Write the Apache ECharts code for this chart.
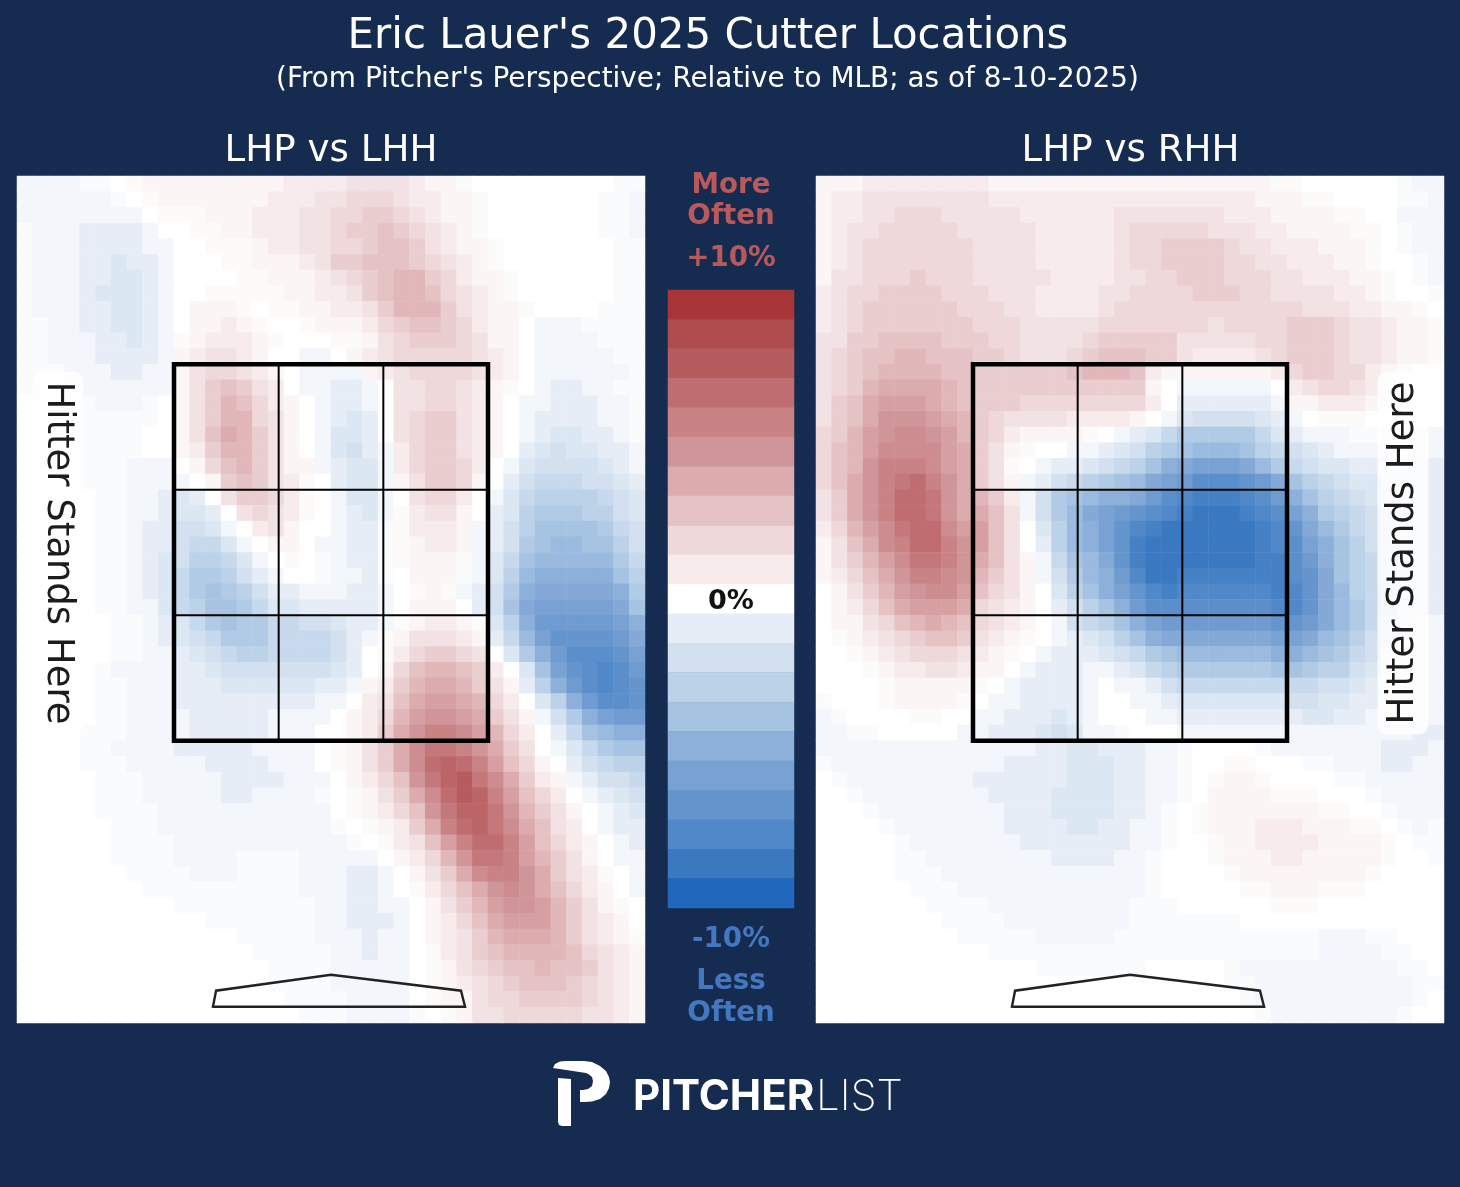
<!DOCTYPE html>
<html><head><meta charset="utf-8">
<style>html,body{margin:0;padding:0;background:#162B50}#c{width:1460px;height:1187px}</style>
<script src="https://cdn.jsdelivr.net/npm/echarts@6/dist/echarts.min.js"></script>
</head><body><div id="c"></div>
<script>
const vsLHH = [
[-1,-1,-1,-1,-.5,-.5,0,.5,1,1,1,1,1,1,1,1,1,2,2,2,2,3,3,3,3,2,1,1,.5,0,0,0,0,0,0,0,0,0,-.5,-.5],
[-1,-1,-1,-1,-1,-1,-.5,0,.5,1,1,1,1,1,1,1,2,2,2,3,3,4,4,4,3,2,2,1,1,.5,0,0,0,0,0,0,0,-.5,-.5,-1],
[-1,-1,-1,-1,-1,-1,-1,-1,0,.5,.5,.5,1,1,1,2,2,2,3,3,4,4,5,5,4,3,2,1,1,.5,0,0,0,0,0,0,0,-.5,-.5,-1],
[-.5,-1,-1,-1,-2,-2,-2,-2,-1,0,0,.5,.5,1,1,2,2,2,3,3,4,5,5,6,5,4,3,2,1,.5,0,0,0,0,0,0,0,-.5,-.5,-1],
[-.5,-1,-1,-1,-2,-2,-2,-2,-1,-1,0,0,.5,.5,.5,1,2,2,3,3,4,4,5,6,6,5,3,2,1,1,.5,0,0,0,0,0,0,0,-.5,-.5],
[-.5,-1,-1,-1,-2,-2,-3,-2,-2,-1,0,0,0,.5,.5,1,1,1,2,3,5,5,6,6,6,5,4,3,2,1,.5,0,0,0,0,0,0,0,-.5,-.5],
[-.5,-1,-1,-1,-2,-2,-3,-3,-2,-1,0,0,0,0,.5,.5,1,1,1,2,3,4,5,6,7,7,5,4,2,1,1,.5,0,0,0,0,0,0,-.5,-.5],
[-.5,-1,-1,-1,-2,-3,-3,-3,-2,-1,0,0,.5,.5,.5,.5,.5,1,1,2,2,3,5,6,7,7,6,4,3,2,1,.5,0,0,0,0,0,0,-.5,-.5],
[-.5,-1,-1,-1,-2,-2,-3,-3,-2,-1,0,1,1,1,.5,0,.5,.5,1,1,2,2,3,5,7,7,7,5,3,2,1,1,.5,0,0,0,0,-.5,-.5,-.5],
[-.5,-.5,-1,-1,-2,-2,-3,-3,-2,-1,0,1,1,2,1,.5,0,0,.5,1,1,1,2,4,5,6,6,5,4,2,1,1,0,-1,-1,-1,-.5,-.5,-.5,-.5],
[-.5,-.5,-1,-1,-1,-2,-2,-3,-2,-1,.5,1,2,2,2,1,.5,0,0,0,.5,.5,1,3,4,5,5,5,4,3,1,1,0,-1,-1,-1,-1,-.5,-.5,-.5],
[-.5,-.5,-1,-1,-1,-2,-2,-2,-2,-1,1,2,3,3,2,1,0,0,-1,-1,0,1,2,3,4,4,4,4,4,3,2,1,0,-1,-1,-1,-1,-1,-.5,-.5],
[-.5,-.5,-.5,-1,-1,-1,-2,-2,-1,-1,1,3,4,4,3,2,1,0,-1,-1,-1,-1,1,2,3,4,4,4,4,3,2,1,0,-1,-1,-1,-1,-1,-1,-.5],
[-.5,-.5,-.5,-.5,-1,-1,-1,-1,-1,-1,1,3,5,6,5,3,2,0,-1,-1,-2,-2,-1,0,3,3,4,4,3,2,1,.5,0,-1,-2,-2,-1,-1,-.5,-.5],
[0,-.5,-.5,-.5,-.5,-1,-1,-1,-.5,0,1,3,5,7,6,4,2,1,0,-1,-2,-2,-1,0,3,3,4,4,3,2,1,0,-1,-1,-2,-2,-2,-1,-1,-.5],
[0,-.5,-.5,-.5,-.5,-.5,-.5,-.5,-.5,0,1,3,5,7,7,4,3,1,0,-1,-2,-3,-2,0,3,4,5,5,3,2,1,0,-1,-2,-2,-2,-2,-1,-1,-.5],
[0,-.5,-.5,-.5,-.5,-.5,-.5,-.5,0,0,1,3,6,8,7,5,3,1,0,-1,-3,-3,-2,0,3,4,5,5,3,2,1,0,-1,-2,-3,-3,-2,-2,-1,-.5],
[0,0,-.5,-.5,-.5,-.5,-.5,-.5,0,0,1,2,5,7,7,5,3,1,0,-1,-3,-4,-2,-1,2,4,5,5,3,2,1,0,-2,-3,-4,-3,-3,-2,-2,-1],
[0,0,0,-.5,-.5,-.5,-.5,-1,-1,-1,0,1,4,6,7,5,3,1,1,-1,-2,-3,-3,-1,2,4,5,5,4,2,0,-1,-3,-4,-4,-4,-4,-3,-2,-1],
[0,0,0,0,-.5,-.5,-.5,-1,-1,-1,-1,0,1,5,6,5,3,2,.5,0,-2,-3,-3,-1,1,3,5,5,4,1,0,-2,-4,-5,-5,-5,-4,-4,-3,-2],
[0,0,0,0,0,-.5,-.5,-1,-1,-2,-3,-2,0,3,5,5,4,2,.5,0,-1,-3,-3,-1,0,3,4,4,2,0,-1,-3,-5,-6,-6,-6,-6,-5,-4,-3],
[0,0,0,0,0,-.5,-.5,-1,-1,-2,-3,-3,-2,0,3,4,3,2,.5,0,-1,-2,-3,-1,.5,2,3,3,1,0,-2,-3,-6,-7,-7,-7,-6,-6,-4,-3],
[0,0,0,0,0,-.5,-.5,-1,-2,-2,-4,-4,-3,-1,0,2,3,1,0,0,-1,-2,-2,-.5,.5,2,2,2,1,-1,-2,-4,-6,-8,-8,-8,-8,-7,-5,-4],
[0,0,0,0,0,-.5,-.5,-1,-2,-2,-4,-5,-5,-3,-1,0,1,1,0,-1,-1,-2,-2,-.5,.5,1,2,2,1,-1,-2,-4,-7,-8,-9,-9,-8,-8,-6,-4],
[0,0,0,0,0,-.5,-.5,-1,-2,-3,-4,-6,-6,-5,-3,-1,0,.5,0,-.5,-1,-2,-2,-.5,.5,1,1,1,.5,-1,-3,-5,-8,-9,-9,-9,-9,-9,-7,-5],
[0,0,0,0,0,-.5,-.5,-1,-2,-3,-5,-7,-7,-6,-4,-2,-1,0,0,-.5,-1,-1,-2,-.5,0,1,1,1,-.5,-1,-3,-6,-9,-10,-10,-10,-10,-10,-8,-6],
[0,0,0,0,0,-.5,-.5,-1,-2,-3,-5,-7,-8,-7,-6,-4,-2,-2,-1,-1,-1,-2,-2,-1,0,.5,1,.5,-1,-2,-4,-7,-10,-11,-11,-11,-11,-11,-10,-7],
[0,0,0,0,0,-.5,-.5,-1,-1,-3,-5,-6,-8,-8,-7,-5,-3,-3,-2,-2,-2,-2,-2,-1,0,1,1,1,0,-2,-4,-8,-11,-12,-12,-12,-12,-12,-11,-8],
[0,0,0,0,0,0,-.5,-.5,-1,-2,-3,-5,-7,-8,-7,-7,-5,-5,-4,-4,-3,-2,-2,-1,.5,1,2,2,1,.5,-3,-6,-10,-13,-13,-13,-13,-13,-12,-10],
[0,0,0,0,0,0,-.5,-.5,-1,-2,-3,-4,-5,-7,-7,-7,-5,-5,-5,-5,-4,-2,-1,.5,1,3,3,3,2,1,-2,-5,-9,-12,-14,-14,-14,-14,-13,-11],
[0,0,0,0,0,0,-.5,-.5,-1,-1,-2,-3,-4,-5,-6,-6,-5,-5,-5,-5,-4,-2,0,.5,2,4,5,5,4,3,0,-3,-7,-10,-13,-15,-15,-15,-14,-12],
[0,0,0,0,0,-.5,-1,-1,-1,-1,-2,-2,-3,-4,-4,-4,-4,-4,-4,-4,-3,-2,0,1,4,6,7,7,6,5,2,0,-3,-8,-12,-14,-15,-16,-15,-13],
[0,0,0,0,0,-.5,-.5,-1,-1,-1,-2,-2,-2,-3,-3,-3,-3,-3,-3,-2,-2,-1,1,2,5,7,8,8,7,5,3,1,-2,-6,-10,-13,-15,-16,-15,-14],
[0,0,0,0,0,-.5,-.5,-1,-1,-1,-2,-2,-2,-2,-2,-2,-2,-2,-2,-1,-1,0,2,3,6,8,9,9,8,7,4,2,0,-3,-6,-10,-13,-15,-15,-14],
[0,0,0,0,0,-.5,-.5,-1,-1,-1,-1,-2,-2,-2,-2,-2,-1,-1,-1,-1,0,1,2,4,7,9,10,10,9,8,5,3,1,-1,-4,-7,-10,-12,-13,-13],
[0,0,0,0,-.5,-.5,-.5,-1,-1,-1,-1,-2,-2,-2,-2,-2,-1,-1,-1,0,0,1,2,5,8,10,12,12,11,9,7,4,2,0,-2,-5,-8,-9,-10,-10],
[0,0,0,0,-.5,-.5,-1,-1,-1,-1,-2,-2,-2,-2,-2,-1,-1,-1,-1,0,.5,1,3,5,8,11,13,13,12,10,8,5,3,0,-1,-3,-5,-7,-8,-8],
[0,0,0,0,-.5,-.5,-.5,-1,-1,-1,-1,-1,-2,-2,-2,-2,-1,-1,-1,0,.5,1,3,5,8,11,14,15,14,12,9,6,4,1,0,-2,-4,-5,-6,-6],
[0,0,0,0,0,-.5,-.5,-.5,-1,-1,-1,-1,-1,-2,-2,-2,-2,-1,-1,-1,0,1,2,4,6,10,13,15,16,13,11,8,5,2,1,-1,-2,-4,-4,-5],
[0,0,0,0,0,-.5,-.5,-.5,-1,-1,-1,-1,-1,-2,-2,-1,-1,-1,-1,-.5,0,.5,1,3,5,8,11,14,16,15,12,9,6,4,2,0,-1,-2,-3,-4],
[0,0,0,0,0,-.5,-.5,-.5,-.5,-1,-1,-1,-1,-1,-1,-1,-1,-1,-1,-1,0,.5,1,2,4,6,10,13,15,15,13,10,7,5,3,1,0,-1,-2,-3],
[0,0,0,0,0,0,-.5,-.5,-.5,-1,-1,-1,-1,-1,-1,-1,-1,-1,-1,-1,-.5,0,.5,1,2,5,8,12,14,15,13,11,8,6,3,2,0,-1,-2,-2],
[0,0,0,0,0,0,-.5,-.5,-.5,-.5,-1,-1,-1,-1,-1,-1,-1,-1,-1,-1,-1,-.5,0,.5,2,3,6,9,12,14,14,12,9,6,4,2,1,0,-1,-2],
[0,0,0,0,0,0,-.5,-.5,-.5,-.5,-1,-1,-1,-1,-.5,-.5,-.5,-.5,-1,-1,-1,-1,-1,0,1,2,4,7,10,13,13,12,9,7,5,3,1,0,-1,-1],
[0,0,0,0,0,0,0,-.5,-.5,-.5,-.5,-1,-1,-1,-.5,-.5,-.5,-.5,-1,-1,-1,-2,-2,-1,0,1,3,5,8,11,12,12,10,8,5,3,2,.5,0,-1],
[0,0,0,0,0,0,0,0,-.5,-.5,-.5,-.5,-.5,-.5,-.5,-.5,-.5,-.5,-1,-1,-1,-2,-2,-1,0,.5,2,4,6,8,10,11,10,8,6,4,2,1,0,-1],
[0,0,0,0,0,0,0,0,0,0,-.5,-.5,-.5,-.5,-.5,-.5,-.5,-.5,-.5,-1,-1,-2,-2,-1,-1,0,1,3,5,7,9,10,10,9,7,5,3,1,.5,0],
[0,0,0,0,0,0,0,0,0,0,0,0,-.5,-.5,-.5,-.5,-.5,-.5,-.5,-1,-1,-2,-2,-2,-1,0,1,2,4,6,8,9,9,9,7,5,3,2,1,0],
[0,0,0,0,0,0,0,0,0,0,0,0,0,0,-.5,-.5,-.5,-.5,-.5,-1,-1,-1,-2,-1,-1,0,1,2,3,5,7,8,8,8,7,5,3,2,1,.5],
[0,0,0,0,0,0,0,0,0,0,0,0,0,0,0,-.5,-.5,-.5,-.5,-.5,-1,-1,-2,-1,-1,0,.5,2,3,5,6,7,7,7,7,6,4,3,2,1],
[0,0,0,0,0,0,0,0,0,0,0,0,0,0,0,0,-.5,-.5,-.5,-.5,-1,-1,-1,-1,-1,0,.5,1,3,4,5,6,6,7,6,6,5,3,2,1],
[0,0,0,0,0,0,0,0,0,0,0,0,0,0,0,0,-.5,-.5,-.5,-.5,-1,-1,-1,-1,-1,0,.5,1,2,3,4,5,6,6,6,5,4,3,2,1],
[0,0,0,0,0,0,0,0,0,0,0,0,0,0,0,0,0,-.5,-.5,-.5,-.5,-1,-1,-1,-1,0,.5,1,1,3,4,4,5,5,5,5,4,3,2,1],
[0,0,0,0,0,0,0,0,0,0,0,0,0,0,0,0,0,0,-.5,-.5,-.5,-1,-1,-1,-1,-.5,0,.5,1,3,3,4,4,4,4,4,3,3,2,1]
];
const vsRHH = [
[1,1,1,2,2,2,2,2,2,2,2,1,1,1,1,1,1,1,1,1,1,1,1,1,1,1,1,1,1,.5,.5,0,0,0,0,0,0,-.5,-1,-1],
[1,2,2,3,3,3,3,3,3,3,3,2,2,2,2,2,2,2,2,2,2,2,2,2,2,2,2,2,1,1,1,.5,.5,0,0,0,0,-.5,-.5,-1],
[1,2,2,3,3,4,4,4,3,3,3,3,3,2,2,2,2,2,2,3,3,3,3,3,3,3,2,2,2,1,1,1,1,.5,.5,0,0,-1,-1,-1],
[1,2,3,3,4,4,4,4,4,3,3,3,3,3,2,2,2,2,2,3,4,4,4,4,4,3,3,3,2,2,1,1,1,1,.5,.5,0,-.5,-1,-1],
[1,2,3,4,4,4,4,4,4,4,3,3,3,3,2,2,2,2,2,3,4,4,5,5,5,5,4,3,3,2,2,2,1,1,1,.5,0,-.5,-1,-1],
[1,2,3,4,4,4,4,4,4,4,3,3,3,3,2,2,2,2,2,3,4,4,5,5,5,5,4,4,3,3,2,2,2,1,1,.5,0,0,-.5,-1],
[1,3,3,4,4,4,5,4,4,4,3,3,3,3,3,2,2,2,2,3,3,4,4,5,5,5,4,4,4,3,3,2,2,2,1,1,.5,0,-.5,-1],
[2,3,4,4,5,5,5,5,4,4,4,3,3,3,2,2,2,2,3,3,4,4,4,4,5,5,5,4,4,3,3,3,3,2,2,1,.5,0,0,-.5],
[2,3,4,5,5,5,5,5,5,4,4,4,3,3,2,2,2,2,3,4,4,4,4,4,4,4,4,4,4,4,4,3,3,3,2,2,1,1,.5,0],
[2,3,4,5,5,5,5,5,5,5,4,4,4,3,3,3,3,3,4,4,4,4,4,4,4,3,4,4,4,4,5,5,5,4,3,3,2,1,1,.5],
[3,3,5,5,6,6,6,6,5,5,5,4,4,3,3,3,3,4,5,5,5,5,5,3,3,3,3,3,4,4,5,5,5,4,3,3,2,1,1,.5],
[3,4,5,6,6,7,7,6,6,6,5,5,4,3,3,3,4,5,6,6,6,5,5,3,2,2,2,2,3,4,5,5,5,4,3,3,2,1,1,.5],
[3,4,5,6,7,7,7,7,6,6,5,5,5,5,5,5,6,7,7,7,6,2,1,1,1,1,1,1,1,2,4,5,5,4,4,2,1,.5,0,0],
[3,4,5,7,8,8,8,8,7,6,5,5,5,5,5,5,5,5,5,5,5,1,0,-1,-1,-1,-1,-1,-1,0,2,3,4,4,3,2,1,.5,0,0],
[3,5,6,8,9,9,9,8,7,6,5,5,5,4,4,4,4,4,4,4,4,2,0,-2,-2,-2,-2,-2,-2,-1,1,1,2,2,2,1,1,.5,0,0],
[3,5,6,8,10,10,10,9,8,7,5,4,3,3,3,3,2,2,2,2,1,0,-1,-3,-4,-4,-4,-4,-3,-2,-1,0,.5,.5,.5,0,0,0,0,0],
[4,5,7,9,10,11,11,10,9,7,5,4,2,1,1,1,1,.5,0,-1,-2,-3,-5,-7,-7,-7,-7,-7,-5,-3,-2,-1,-1,-1,-.5,-.5,-1,-1,-1,-1],
[4,6,7,9,11,11,11,11,9,8,5,3,1,.5,0,0,-1,-1,-2,-3,-4,-6,-7,-8,-9,-9,-9,-8,-6,-5,-4,-3,-2,-1,-1,-1,-1,-1,-1,-1],
[4,6,7,10,12,12,12,11,9,8,5,3,.5,0,-1,-2,-2,-3,-4,-5,-6,-8,-10,-11,-12,-12,-12,-11,-9,-7,-5,-4,-3,-3,-2,-2,-2,-2,-2,-2],
[4,6,8,10,12,13,14,12,10,8,5,3,1,-1,-2,-4,-5,-6,-7,-8,-9,-11,-12,-13,-15,-15,-15,-14,-13,-11,-8,-6,-5,-4,-3,-3,-2,-2,-2,-2],
[3,5,8,10,12,14,14,13,10,8,7,5,2,-1,-4,-7,-8,-9,-10,-10,-11,-13,-15,-16,-17,-17,-17,-16,-15,-13,-10,-8,-6,-5,-4,-3,-3,-2,-2,-2],
[3,5,8,10,12,14,14,13,10,8,8,6,3,-1,-4,-7,-9,-11,-12,-13,-14,-15,-16,-17,-18,-18,-18,-17,-16,-15,-12,-10,-7,-6,-5,-4,-3,-2,-2,-2],
[2,4,7,9,11,13,14,14,11,9,9,6,3,0,-3,-6,-9,-10,-12,-14,-16,-17,-18,-18,-18,-18,-18,-18,-17,-16,-14,-11,-9,-7,-5,-4,-3,-2,-2,-2],
[1,3,6,8,11,12,14,14,12,10,9,6,3,0,-2,-6,-9,-10,-12,-14,-17,-18,-18,-18,-18,-18,-18,-18,-17,-16,-15,-12,-10,-8,-6,-4,-3,-2,-2,-2],
[1,3,5,7,9,11,13,13,12,10,8,6,3,1,-1,-5,-8,-9,-11,-14,-17,-18,-18,-18,-18,-18,-18,-18,-17,-17,-15,-13,-10,-8,-6,-5,-3,-2,-2,-2],
[1,2,4,6,8,10,12,12,11,10,7,5,3,1,-1,-4,-7,-9,-10,-13,-16,-18,-18,-17,-17,-17,-17,-17,-17,-17,-15,-14,-11,-8,-6,-5,-3,-2,-2,-2],
[0,1,3,5,7,9,10,11,11,9,6,4,3,1,0,-3,-6,-8,-10,-12,-14,-16,-17,-16,-16,-16,-16,-16,-16,-17,-16,-14,-11,-9,-6,-5,-4,-2,-2,-2],
[0,1,2,4,6,8,9,9,9,8,4,3,2,1,0,-2,-4,-6,-8,-10,-13,-15,-15,-15,-15,-15,-15,-15,-15,-16,-16,-14,-11,-9,-7,-5,-4,-2,-2,-2],
[0,1,1,3,4,6,7,8,7,6,4,3,2,1,0,-1,-4,-5,-6,-8,-10,-12,-13,-13,-13,-13,-13,-13,-13,-14,-14,-13,-11,-9,-7,-5,-3,-2,-1,-1],
[0,.5,1,2,3,4,5,6,6,5,3,2,1,.5,0,-1,-2,-3,-4,-6,-8,-10,-11,-11,-11,-11,-11,-11,-11,-12,-12,-11,-9,-8,-6,-4,-3,-2,-1,-1],
[0,0,.5,1,2,3,4,4,4,3,2,1,.5,0,-1,-2,-2,-2,-3,-4,-5,-7,-8,-9,-9,-9,-9,-9,-9,-10,-10,-9,-8,-7,-5,-4,-2,-2,-1,-1],
[0,0,0,.5,1,2,2,3,3,2,1,1,0,-1,-2,-2,-2,-1,-1,-2,-3,-5,-6,-7,-7,-7,-7,-7,-7,-8,-8,-7,-6,-6,-4,-3,-2,-1,-1,-1],
[0,0,0,0,.5,1,1,1,1,1,.5,0,-1,-2,-2,-2,-2,-1,0,-1,-1,-2,-4,-5,-5,-5,-5,-5,-5,-5,-5,-5,-4,-4,-3,-2,-1,-1,-1,-1],
[-.5,0,0,0,.5,1,1,1,1,.5,0,-1,-1,-2,-2,-2,-2,-1,0,0,-1,-1,-2,-3,-3,-3,-3,-3,-3,-3,-4,-4,-3,-3,-2,-2,-1,-1,-1,-1],
[-1,-.5,0,0,0,0,.5,.5,0,0,-1,-1,-2,-2,-2,-3,-2,-1,0,0,0,-1,-1,-2,-2,-2,-2,-2,-2,-2,-2,-3,-3,-2,-2,-1,-1,-1,-1,-1],
[-1,-1,-.5,-.5,0,0,0,0,0,-1,-1,-2,-2,-2,-3,-4,-3,-1,-1,-.5,0,0,0,-1,-1,-1,-1,-1,-1,-1,-1,-1,-1,-1,-1,-1,-1,-1,-2,-2],
[-1,-1,-1,-1,-1,-1,-1,-1,-1,-1,-1,-1,-1,-1,-2,-2,-3,-3,-2,-2,-2,-1,-1,-.5,0,0,0,0,-.5,-1,-1,-1,-1,-1,-1,-1,-2,-2,-2,-1],
[-.5,-1,-1,-1,-1,-1,-1,-1,-1,-1,-1,-1,-2,-2,-2,-2,-3,-3,-3,-2,-2,-1,-1,-.5,0,0,.5,.5,0,0,0,-.5,-.5,-1,-1,-1,-2,-2,-1,-1],
[0,-.5,-1,-1,-1,-1,-1,-1,-1,-1,-2,-2,-2,-2,-2,-2,-3,-3,-3,-2,-2,-1,-1,-.5,0,.5,1,1,.5,0,0,0,0,-.5,-.5,-1,-1,-1,-1,-1],
[0,0,-.5,-1,-1,-1,-1,-1,-1,-1,-1,-2,-2,-2,-2,-3,-3,-3,-3,-2,-2,-1,-1,-.5,0,1,1,1,1,.5,.5,.5,0,0,0,-.5,-1,-1,-1,-1],
[0,0,0,-.5,-1,-1,-1,-1,-1,-1,-1,-1,-2,-2,-2,-3,-3,-3,-3,-2,-2,-1,-.5,0,.5,1,1,1,1,1,1,1,.5,.5,0,0,-.5,-1,-1,-1],
[0,0,0,0,-.5,-1,-1,-1,-1,-1,-1,-1,-2,-2,-2,-2,-3,-3,-2,-2,-1,-1,-.5,0,.5,1,1,1,2,2,2,1,1,1,.5,.5,0,-.5,-1,-.5],
[0,0,0,0,0,-.5,-1,-1,-1,-1,-1,-1,-1,-2,-2,-2,-2,-2,-2,-2,-1,-1,-.5,0,0,.5,1,1,2,2,2,2,1,1,1,1,.5,0,-.5,-.5],
[0,0,0,0,0,-.5,-.5,-1,-1,-1,-1,-1,-1,-1,-1,-2,-2,-2,-2,-1,-1,-.5,0,0,0,.5,1,1,1,2,2,1,1,1,1,1,.5,0,0,-.5],
[0,0,0,0,0,-.5,-.5,-.5,-1,-1,-1,-1,-1,-1,-1,-1,-1,-1,-1,-1,-1,-.5,0,0,0,0,.5,1,1,1,1,1,1,1,1,.5,0,0,0,0],
[0,0,0,0,0,0,-.5,-.5,-.5,-1,-1,-1,-1,-1,-1,-1,-1,-1,-1,-1,-1,-.5,0,0,0,0,0,.5,.5,1,1,1,.5,.5,.5,0,0,0,0,0],
[0,0,0,0,0,0,0,-.5,-.5,-.5,-.5,-1,-1,-1,-1,-1,-1,-1,-1,-1,-.5,-.5,-.5,0,0,0,0,0,0,.5,.5,.5,0,0,0,0,0,0,0,0],
[0,0,0,0,0,0,0,0,-.5,-.5,-.5,-.5,-1,-1,-1,-1,-1,-1,-1,-1,-.5,-.5,-.5,-.5,-.5,-.5,-.5,0,0,0,0,0,0,0,0,0,0,0,0,0],
[0,0,0,0,0,0,0,0,0,-.5,-.5,-.5,-.5,-.5,-1,-1,-1,-1,-1,-.5,-.5,-.5,-.5,-.5,-.5,-.5,-.5,-.5,-.5,-.5,-.5,-.5,-1,-1,-1,-.5,-.5,0,0,0],
[0,0,0,0,0,0,0,0,0,0,0,-.5,-.5,-.5,-.5,-.5,-.5,-.5,-.5,-.5,-.5,-.5,-.5,-.5,-.5,-.5,-.5,-.5,-.5,-.5,-.5,-.5,-1,-1,-1,-1,-.5,-.5,0,0],
[0,0,0,0,0,0,0,0,0,0,0,0,0,0,-.5,-.5,-.5,-.5,-.5,-.5,-.5,0,0,0,0,0,-.5,-1,-1,-1,-1,-1,-1,-1,-1,-1,-1,-.5,-.5,0],
[0,0,0,0,0,0,0,0,0,0,0,0,0,0,0,0,0,0,0,0,0,0,0,0,0,0,-.5,-.5,-1,-1,-1,-1,-1,-1,-1,-1,-1,-1,-.5,-.5],
[0,0,0,0,0,0,0,0,0,0,0,0,0,0,0,0,0,0,0,0,0,0,0,0,0,0,0,-.5,-1,-1,-1,-1,-1,-1,-1,-1,-1,-1,-.5,0],
[0,0,0,0,0,0,0,0,0,0,0,0,0,0,0,0,0,0,0,0,0,0,0,0,0,0,0,0,-.5,-1,-1,-1,-1,-1,-1,-1,-1,-.5,0,0]
];
const legendSteps = [10,9,8,7,6,5,4,3,2,1,0,-1,-2,-3,-4,-5,-6,-7,-8,-9,-10];
const legendColors = ['#A83538','#AF4C4E','#B75C5E','#BF6D70','#C98385','#D09599','#DCABAD','#E5C2C4','#EFD8DA','#F7EBEB','#FFFFFF','#E6EDF7','#D2E0F0','#BBD2E9','#A6C3E2','#8DB0DB','#7AA1D3','#6595CD','#5188CA','#3A78C0','#2167BC'];
const STEP = 0.5;
// Strike zone and home plate, in grid-cell units
const zoneOuter = [[10,12],[30,12],[30,36],[10,36],[10,12]];
const zoneVerticals = [16.667,23.333];
const zoneHorizontals = [20,28];
const plate = [[12.48,52.96],[12.68,51.94],[20,50.92],[28.28,51.94],[28.54,52.96],[12.48,52.96]];

const FONT = '"DejaVu Sans"';
const NAVY = '#162B50', RED = '#B85A5C', BLUE = '#4378C0';
const cols = [...Array(40).keys()].map(String), rows = [...Array(54).keys()].map(String);
const cells = m => m.flatMap((r,y)=>r.map((v,x)=>[x,y,v*STEP]));

const grid=[], xAxis=[], yAxis=[], series=[];
function panel(left, data){
  const g = grid.length;
  grid.push({left, top:176, width:628, height:847, show:true, backgroundColor:'#FDFDFE', borderWidth:0});
  const x0=xAxis.length;
  xAxis.push({gridIndex:g,type:'category',data:cols,show:false},{gridIndex:g,type:'value',min:0,max:40,show:false});
  yAxis.push({gridIndex:g,type:'category',data:rows,inverse:true,show:false},{gridIndex:g,type:'value',min:0,max:54,inverse:true,show:false});
  series.push({type:'heatmap',xAxisIndex:x0,yAxisIndex:x0,data:cells(data),progressive:0,silent:true,z:1});
  const line=(pts,w,color)=>series.push({type:'line',xAxisIndex:x0+1,yAxisIndex:x0+1,data:pts,showSymbol:false,silent:true,clip:false,z:3,
    lineStyle:{width:w,color,join:'miter',cap:'square'}});
  zoneVerticals.forEach(v=>line([[v,12],[v,36]],2,'#000'));
  zoneHorizontals.forEach(h=>line([[10,h],[30,h]],2,'#000'));
  line(zoneOuter,4.5,'#000');
  line(plate,2.4,'#222');
}
panel(17,vsLHH);
panel(816,vsRHH);
// colour legend
const lg=grid.length;
grid.push({left:668,top:290,width:126,height:618,show:false});
xAxis.push({gridIndex:lg,type:'category',data:['k'],show:false});
yAxis.push({gridIndex:lg,type:'category',data:legendSteps.map(String),inverse:true,show:false});
series.push({type:'heatmap',xAxisIndex:xAxis.length-1,yAxisIndex:yAxis.length-1,silent:true,
  data:legendSteps.map((v,i)=>[0,i,v])});

const txt=(text,x,y,size,fill,weight,rotation)=>({type:'text',x,y,rotation:rotation||0,z:10,silent:true,
  style:{text,fill,font:`${weight||'normal'} ${size}px ${FONT}`,textAlign:'center',textVerticalAlign:'middle'}});
const hitter=(x,rot)=>({type:'text',x,y:553,rotation:rot,z:9,silent:true,
  style:{text:'Hitter Stands Here',fill:'#1c1c1c',font:`37px ${FONT}`,textAlign:'center',textVerticalAlign:'middle',
  backgroundColor:'rgba(255,255,255,0.8)',borderRadius:10,padding:[7,10,7,10]}});

const option={
  backgroundColor:NAVY,animation:false,grid,xAxis,yAxis,series,
  visualMap:{show:false,type:'continuous',min:-10,max:10,seriesIndex:series.map((s,i)=>s.type==='heatmap'?i:-1).filter(i=>i>=0),
    inRange:{color:legendColors.slice().reverse()}},
  graphic:[
    txt("Eric Lauer's 2025 Cutter Locations",708,37,41.9,'#fff'),
    txt("(From Pitcher's Perspective; Relative to MLB; as of 8-10-2025)",707.5,80,27.9,'#fff'),
    txt('LHP vs LHH',331,151,37.2,'#fff'),
    txt('LHP vs RHH',1130.5,151,37.2,'#fff'),
    txt('More',731,186,27.7,RED,'bold'),
    txt('Often',731,217,27.7,RED,'bold'),
    txt('+10%',731,259,27.7,RED,'bold'),
    txt('0%',731,602,27,'#111','bold'),
    txt('-10%',731,940,27.7,BLUE,'bold'),
    txt('Less',731,982,27.7,BLUE,'bold'),
    txt('Often',731,1014,27.7,BLUE,'bold'),
    hitter(58,-Math.PI/2),
    hitter(1403,Math.PI/2),
    {type:'polygon',z:10,silent:true,shape:{points:[[553,1068],[555,1064],[560,1061.5],[566,1061],[584,1061],[592,1062],[600,1066],[606,1071],[609,1077],[610,1082],[609,1088],[606,1094],[600,1099],[592,1101.5],[585,1102],[580,1102],[580,1090],[583,1090],[588,1089],[592,1086],[593,1081],[592,1077],[589,1074.5],[586,1073]]},style:{fill:'#fff'}},
    {type:'polygon',z:10,silent:true,shape:{points:[[558,1078],[571,1079],[571,1126],[562,1126],[559,1125],[558,1122]]},style:{fill:'#fff'}},
    {type:'text',x:633,y:1097,z:10,silent:true,style:{text:'PITCHER',fill:'#fff',font:'bold 42px Inter',textAlign:'left',textVerticalAlign:'middle'}},
    {type:'text',x:816,y:1097,z:10,silent:true,style:{text:'LIST',fill:'#fff',font:'200 42px Inter',textAlign:'left',textVerticalAlign:'middle'}}
  ]
};
echarts.init(document.getElementById('c'),null,{renderer:'canvas'}).setOption(option);
</script></body></html>
